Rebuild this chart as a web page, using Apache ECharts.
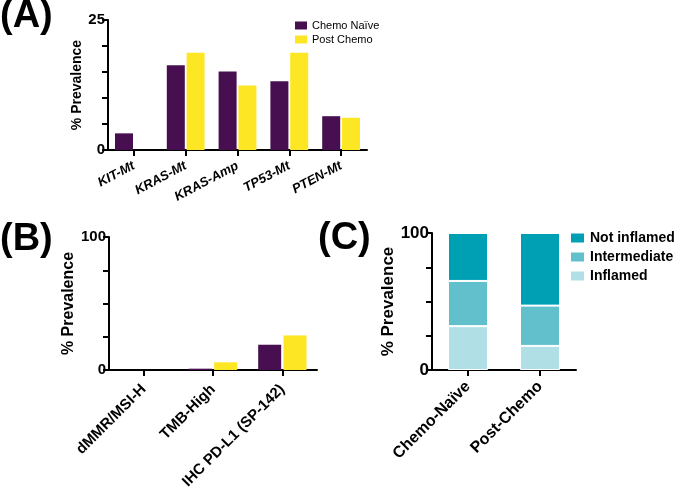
<!DOCTYPE html>
<html>
<head>
<meta charset="utf-8">
<script src="https://cdn.jsdelivr.net/npm/echarts@6/dist/echarts.min.js"></script>
<style>
    html, body { margin: 0; padding: 0; background: #fff; }
    #chart { width: 675px; height: 487px; }
</style>
</head>
<body>
<div id="chart"></div>
<script>
// 面板 A：基因改变
const genesA = ['KIT-Mt', 'KRAS-Mt', 'KRAS-Amp', 'TP53-Mt', 'PTEN-Mt'];
const naiveA = [3.2, 16.3, 15.1, 13.2, 6.5];
const postA = [0, 18.7, 12.4, 18.7, 6.2];

// 面板 B：生物标志物
const markersB = ['dMMR/MSI-H', 'TMB-High', 'IHC PD-L1 (SP-142)'];
const naiveB = [0, 1, 19];
const postB = [0, 5.8, 26];

// 面板 C：炎症状态堆叠
const groupsC = ['Chemo-Naïve', 'Post-Chemo'];
const inflamedC = [32, 17.6];
const intermediateC = [33, 29.4];
const notInflamedC = [35, 53];

const seriesNames = ['Chemo Naïve', 'Post Chemo'];
const FONT = '"Liberation Sans", Arial, sans-serif';
const PURPLE = '#470E50';
const YELLOW = '#FDE725';

const chart = echarts.init(document.getElementById('chart'));

// 通用坐标轴样式
function yAxisFor(gridIndex, max, interval, fontSize, nameSize, nameGap) {
    return {
        gridIndex: gridIndex,
        type: 'value',
        min: 0, max: max, interval: interval,
        name: '% Prevalence',
        nameLocation: 'middle',
        nameGap: nameGap,
        nameTextStyle: { fontFamily: FONT, fontWeight: 'bold', fontSize: nameSize, color: '#000' },
        axisLine: { show: true, lineStyle: { color: '#000', width: 2 } },
        axisTick: { show: true, length: 6, lineStyle: { color: '#000', width: 2 } },
        splitLine: { show: false },
        axisLabel: {
            fontFamily: FONT, fontWeight: 'bold', fontSize: fontSize, color: '#000', margin: 3,
            formatter: v => (v === 0 || v === max) ? String(v) : ''
        }
    };
}

function xAxisFor(gridIndex, data, rotate, fontSize, italic, margin) {
    return {
        gridIndex: gridIndex,
        type: 'category',
        data: data,
        axisLine: { show: true, lineStyle: { color: '#000', width: 2 } },
        axisTick: { show: true, alignWithLabel: true, length: 6, lineStyle: { color: '#000', width: 2 } },
        axisLabel: {
            interval: 0, rotate: rotate, margin: margin,
            fontFamily: FONT, fontWeight: 'bold', fontSize: fontSize, color: '#000',
            fontStyle: italic ? 'italic' : 'normal'
        }
    };
}

chart.setOption({
    animation: false,
    backgroundColor: '#fff',
    grid: [
        { left: 108, top: 20, width: 259, height: 130, outerBoundsMode: 'none' },
        { left: 109, top: 237, width: 208, height: 133, outerBoundsMode: 'none' },
        { left: 432, top: 233, width: 144, height: 137, outerBoundsMode: 'none' }
    ],
    xAxis: [
        xAxisFor(0, genesA, 28, 13, true, 15),
        xAxisFor(1, markersB, 45, 15, false, 17),
        xAxisFor(2, groupsC, 45, 16, false, 14)
    ],
    yAxis: [
        yAxisFor(0, 25, 5, 15, 14, 18),
        yAxisFor(1, 100, 25, 15, 16, 30),
        yAxisFor(2, 100, 25, 17, 17, 34)
    ],
    legend: [
        {
            data: seriesNames,
            orient: 'vertical',
            left: 295, top: 20, padding: 0,
            itemWidth: 12, itemHeight: 8, itemGap: 3,
            icon: 'rect',
            textStyle: { fontFamily: FONT, fontSize: 11, color: '#000' }
        },
        {
            data: ['Not inflamed', 'Intermediate', 'Inflamed'],
            orient: 'vertical',
            left: 569, top: 231, padding: 0,
            itemWidth: 15, itemHeight: 11, itemGap: 5,
            icon: 'rect',
            textStyle: { fontFamily: FONT, fontWeight: 'bold', fontSize: 14, color: '#000' }
        }
    ],
    graphic: [
        { type: 'text', left: 0, top: -2, style: { text: '(A)', font: 'bold 38px ' + FONT, fill: '#000' } },
        { type: 'text', left: 0, top: 221, style: { text: '(B)', font: 'bold 38px ' + FONT, fill: '#000' } },
        { type: 'text', left: 318, top: 220, style: { text: '(C)', font: 'bold 38px ' + FONT, fill: '#000' } }
    ],
    series: [
        { name: seriesNames[0], type: 'bar', xAxisIndex: 0, yAxisIndex: 0, data: naiveA, barWidth: 18, barGap: '10%', itemStyle: { color: PURPLE } },
        { name: seriesNames[1], type: 'bar', xAxisIndex: 0, yAxisIndex: 0, data: postA, barWidth: 18, barGap: '10%', itemStyle: { color: YELLOW } },
        { name: seriesNames[0], type: 'bar', xAxisIndex: 1, yAxisIndex: 1, data: naiveB, barWidth: 23, barGap: '10%', itemStyle: { color: PURPLE } },
        { name: seriesNames[1], type: 'bar', xAxisIndex: 1, yAxisIndex: 1, data: postB, barWidth: 23, barGap: '10%', itemStyle: { color: YELLOW } },
        { name: 'Inflamed', type: 'bar', stack: 'c', xAxisIndex: 2, yAxisIndex: 2, data: inflamedC, barWidth: 40, itemStyle: { color: '#B0E0E6', borderColor: '#fff', borderWidth: 1 } },
        { name: 'Intermediate', type: 'bar', stack: 'c', xAxisIndex: 2, yAxisIndex: 2, data: intermediateC, barWidth: 40, itemStyle: { color: '#62BFCC', borderColor: '#fff', borderWidth: 1 } },
        { name: 'Not inflamed', type: 'bar', stack: 'c', xAxisIndex: 2, yAxisIndex: 2, data: notInflamedC, barWidth: 40, itemStyle: { color: '#00A0B4', borderColor: '#fff', borderWidth: 1 } }
    ]
});
</script>
</body>
</html>
